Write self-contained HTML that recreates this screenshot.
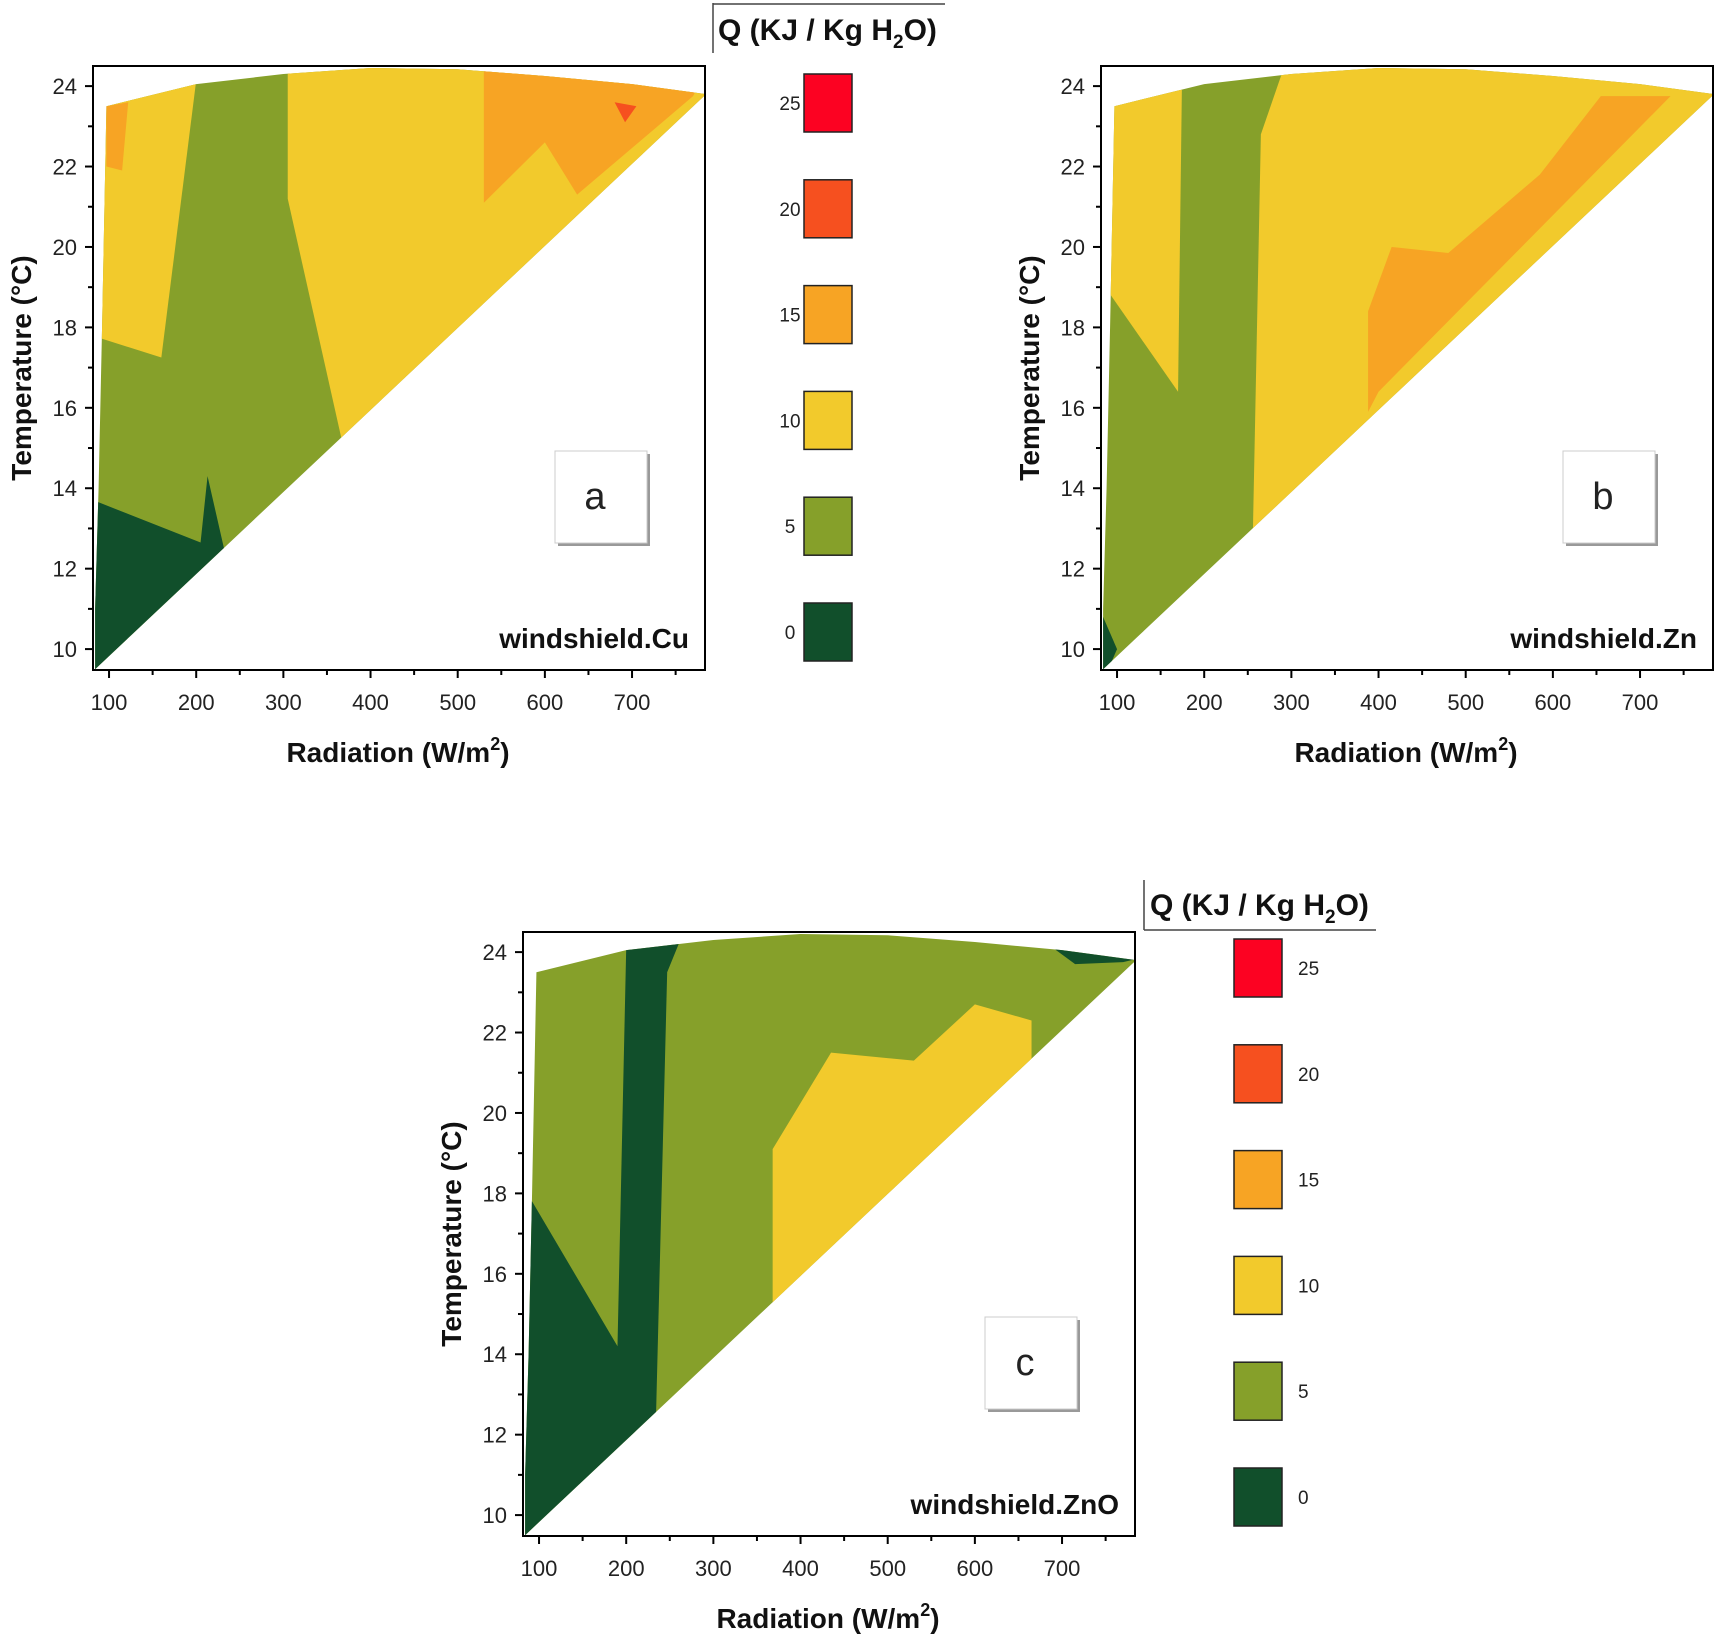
<!DOCTYPE html>
<html><head><meta charset="utf-8">
<style>
html,body{margin:0;padding:0;background:#fff;}
svg{display:block;font-family:"Liberation Sans",Arial,sans-serif;}
</style></head>
<body>
<svg id="fig" width="1720" height="1639" viewBox="0 0 1720 1639" xmlns="http://www.w3.org/2000/svg"></svg>
<script>
// ---- data ----
const xTicks = [100,200,300,400,500,600,700];
const yTicks = [10,12,14,16,18,20,22,24];
const legendLevels = [25,20,15,10,5,0];
const legendColors = ["#fc0222","#f6501f","#f7a424","#f2ca2c","#86a02a","#114f2b"];
const domainX = [84,84,88,92,97,200,300,400,500,600,700,785];
const domainY = [9.5,11,14,18,23.5,24.05,24.3,24.45,24.42,24.25,24.05,23.8];
// panel regions: level index into legendLevels/legendColors (0=25 ... 5=0)
const aLevels = [3,3,2,1,2,5];
const aRegionsX = [
  [80,160,205,80],
  [305,305,367,800,800],
  [530,530,600,637,770,800],
  [680,705,692],
  [97,122,115,97],
  [80,88,205,213,233,233,80]
];
const aRegionsY = [
  [17.8,17.25,25,25],
  [25,21.2,15.2,24,25],
  [25,21.1,22.6,21.3,23.75,25],
  [23.6,23.5,23.1],
  [23.5,23.6,21.9,22.0],
  [13.7,13.65,12.65,14.3,12.4,9,9]
];
const bLevels = [3,3,2,5];
const bRegionsX = [
  [80,170,175,80],
  [300,265,255,900,900],
  [388,388,415,480,585,655,735,400],
  [80,100,80]
];
const bRegionsY = [
  [19.2,16.4,25,25],
  [25,22.8,12,12,25],
  [15.9,18.4,20,19.85,21.8,23.75,23.75,16.4],
  [11.0,10.0,9]
];
const cLevels = [5,3,5];
const cRegionsX = [
  [80,92,190,200,263,247,234,234,80],
  [368,368,435,530,600,665,665],
  [690,715,770,790,790]
];
const cRegionsY = [
  [17.8,17.8,14.2,24.1,24.35,23.5,12.3,9,9],
  [15.0,19.1,21.5,21.3,22.7,22.3,21.0],
  [24.1,23.7,23.75,23.85,24.2]
];

const NS = "http://www.w3.org/2000/svg";
const fig = document.getElementById('fig');
function mk(tag, attrs, parent, text){
  const e = document.createElementNS(NS, tag);
  for (const k in attrs) e.setAttribute(k, attrs[k]);
  if (text !== undefined) e.textContent = text;
  (parent||fig).appendChild(e);
  return e;
}

function panel(id, L, T, levels, rx, ry, label, name){
  const W = 612, H = 604;
  const xMin = 81.6, xMax = 783.7, yMin = 9.48, yMax = 24.5;
  const sx = v => L + (v - xMin) / (xMax - xMin) * W;
  const sy = v => T + H - (v - yMin) / (yMax - yMin) * H;
  const g = mk('g', {});
  
  
  const defs = mk('defs', {}, g);
  const cp = mk('clipPath', {id: 'clip-' + id}, defs);
  let dpts = domainX.map((x,i)=>sx(x)+','+sy(domainY[i]));
  dpts.push(sx(84)+','+sy(9.5));
  mk('polygon', {points: dpts.join(' ')}, cp);
  const plot = mk('g', {'clip-path': 'url(#clip-' + id + ')'}, g);
  
  
  const base = mk('rect', {x: L, y: T, width: W, height: H, fill: legendColors[4]}, plot);
  
  
  rx.forEach((xs, i) => {
    const p = mk('polygon', {points: xs.map((x,j)=>sx(x)+','+sy(ry[i][j])).join(' '), fill: legendColors[levels[i]]}, plot);
    
    
  });
  const frame = mk('rect', {x: L, y: T, width: W, height: H, fill: 'none', stroke: '#000', 'stroke-width': 2}, g);
  
  
  for (let v = 100; v <= 750; v += 50) {
    const major = v % 100 === 0;
    mk('line', {x1: sx(v), x2: sx(v), y1: T + H, y2: T + H + (major ? 8 : 5), stroke: '#000', 'stroke-width': 2}, g);
  }
  xTicks.forEach(v => {
    const t = mk('text', {x: sx(v), y: T + H + 40, 'font-size': 22, 'text-anchor': 'middle', fill: '#222'}, g, String(v));
    
    
  });
  for (let v = 10; v <= 24; v += 1) {
    const major = v % 2 === 0;
    mk('line', {x1: L, x2: L - (major ? 8 : 5), y1: sy(v), y2: sy(v), stroke: '#000', 'stroke-width': 2}, g);
  }
  yTicks.forEach(v => {
    const t = mk('text', {x: L - 16, y: sy(v) + 8, 'font-size': 22, 'text-anchor': 'end', fill: '#222'}, g, String(v));
    
    
  });
  const xt = mk('text', {x: L + 305, y: T + H + 92, 'font-size': 28, 'font-weight': 'bold', 'text-anchor': 'middle', fill: '#111'}, g);
  
  
  xt.appendChild(document.createTextNode('Radiation (W/m'));
  mk('tspan', {'font-size': 18, dy: -12}, xt, '2');
  mk('tspan', {dy: 12}, xt, ')');
  const yt = mk('text', {x: 0, y: 0, 'font-size': 28, 'font-weight': 'bold', 'text-anchor': 'middle', fill: '#111', transform: 'translate(' + (L - 62) + ',' + (T + 302) + ') rotate(-90)'}, g, 'Temperature (°C)');
  
  
  const nm = mk('text', {x: L + 596, y: T + 582, 'font-size': 28, 'font-weight': 'bold', 'text-anchor': 'end', fill: '#111'}, g, name);
  
  
  const bx = L + 462, by = T + 385;
  mk('rect', {x: bx + 3, y: by + 3, width: 92, height: 92, fill: '#999'}, g);
  const lb = mk('rect', {x: bx, y: by, width: 92, height: 92, fill: '#fff', stroke: '#ccc', 'stroke-width': 1}, g);
  
  
  const lt = mk('text', {x: bx + 40, y: by + 58, 'font-size': 38, 'text-anchor': 'middle', fill: '#222'}, g, label);
  
  
}

function legend(id, lineX, lineY, topLine, titleX, titleY, swX, swY0, step, labelX, labelAnchor){
  const g = mk('g', {});
  
  
  if (topLine) {
    mk('line', {x1: lineX, x2: lineX, y1: 3, y2: 53, stroke: '#444', 'stroke-width': 1.5}, g);
    mk('line', {x1: lineX, x2: lineX + 232, y1: 4, y2: 4, stroke: '#444', 'stroke-width': 1.5}, g);
  } else {
    mk('line', {x1: lineX, x2: lineX, y1: lineY - 50, y2: lineY, stroke: '#444', 'stroke-width': 1.5}, g);
    mk('line', {x1: lineX, x2: lineX + 232, y1: lineY, y2: lineY, stroke: '#444', 'stroke-width': 1.5}, g);
  }
  const t = mk('text', {x: titleX, y: titleY, 'font-size': 30, 'font-weight': 'bold', fill: '#111'}, g);
  
  
  t.appendChild(document.createTextNode('Q (KJ / Kg H'));
  mk('tspan', {'font-size': 19, dy: 8}, t, '2');
  mk('tspan', {dy: -8}, t, 'O)');
  legendLevels.forEach((lv, i) => {
    const cy = swY0 + i * step;
    const r = mk('rect', {x: swX, y: cy - 29, width: 48, height: 58, fill: legendColors[i], stroke: '#222', 'stroke-width': 1.5}, g);
    
    
    const l = mk('text', {x: labelX, y: cy + 7, 'font-size': 19, 'text-anchor': labelAnchor, fill: '#222'}, g, String(lv));
    
    
  });
}

panel('a', 93, 66, aLevels, aRegionsX, aRegionsY, 'a', 'windshield.Cu');
panel('b', 1101, 66, bLevels, bRegionsX, bRegionsY, 'b', 'windshield.Zn');
panel('c', 523, 932, cLevels, cRegionsX, cRegionsY, 'c', 'windshield.ZnO');
legend('a', 713, 0, true, 718, 40, 804, 103, 105.8, 790, 'middle');
legend('c', 1144, 930, false, 1150, 915, 1234, 968, 105.8, 1298, 'start');
</script>
</body></html>
